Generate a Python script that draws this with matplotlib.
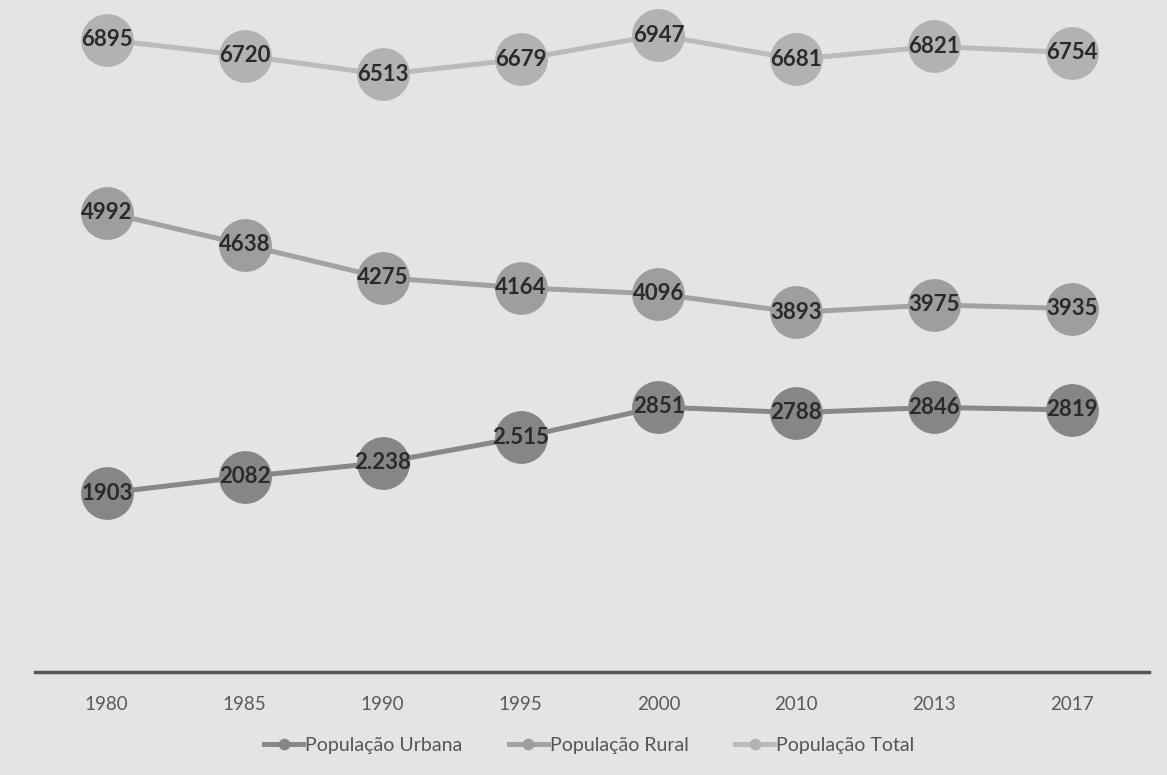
import numpy as np
import matplotlib
matplotlib.use("Agg")
import matplotlib.pyplot as plt

anos = ["1980", "1985", "1990", "1995", "2000", "2010", "2013", "2017"]
urbana = [1903, 2082, 2238, 2515, 2851, 2788, 2846, 2819]
rural = [4992, 4638, 4275, 4164, 4096, 3893, 3975, 3935]
total = [6895, 6720, 6513, 6679, 6947, 6681, 6821, 6754]
# rotulos como aparecem no grafico original
rot_urbana = ["1903", "2082", "2.238", "2.515", "2851", "2788", "2846", "2819"]
rot_rural = [str(v) for v in rural]
rot_total = [str(v) for v in total]

plt.rcParams["font.family"] = ["Lato", "DejaVu Sans"]

fig = plt.figure(figsize=(11.67, 7.75), dpi=100)
fig.patch.set_facecolor("#e4e4e6")
ax = fig.add_axes([0.03, 1 - 672 / 775, 0.955, 672 / 775])
ax.set_facecolor("none")

x = np.arange(len(anos))
series = [
    (urbana, rot_urbana, "População Urbana", "#888889", "#868688"),
    (rural, rot_rural, "População Rural", "#a2a2a4", "#9e9ea0"),
    (total, rot_total, "População Total", "#bbbbbd", "#b2b2b4"),
]
for vals, rots, nome, cl, cm in series:
    ax.plot(x, vals, color=cl, linewidth=3.6, marker="o", markersize=37,
            markerfacecolor=cm, markeredgecolor=cm, label=nome, zorder=2)
    for xi, v, r in zip(x, vals, rots):
        ax.text(xi, v, r, ha="center", va="center", fontsize=16,
                fontweight="bold", color="#2a2a2c", zorder=3)

ax.set_xlim(-0.52, 7.56)
ax.set_ylim(-68, 7333)
ax.set_yticks([])
ax.set_xticks(x)
ax.set_xticklabels(anos, fontsize=13.5, color="#5a5a5c")
ax.tick_params(axis="x", length=0, pad=17)
for s in ["top", "left", "right"]:
    ax.spines[s].set_visible(False)
ax.spines["bottom"].set_color("#55555a")
ax.spines["bottom"].set_linewidth(2.5)

handles, labels = ax.get_legend_handles_labels()
leg = fig.legend(handles, labels, loc="center", bbox_to_anchor=(0.505, 1 - 745 / 775),
                 ncol=3, frameon=False, fontsize=14, handlelength=2.0,
                 columnspacing=2.4, handletextpad=0.1, markerscale=0.2)
for t in leg.get_texts():
    t.set_color("#555557")

fig.savefig("out.png", dpi=100, facecolor=fig.get_facecolor())
